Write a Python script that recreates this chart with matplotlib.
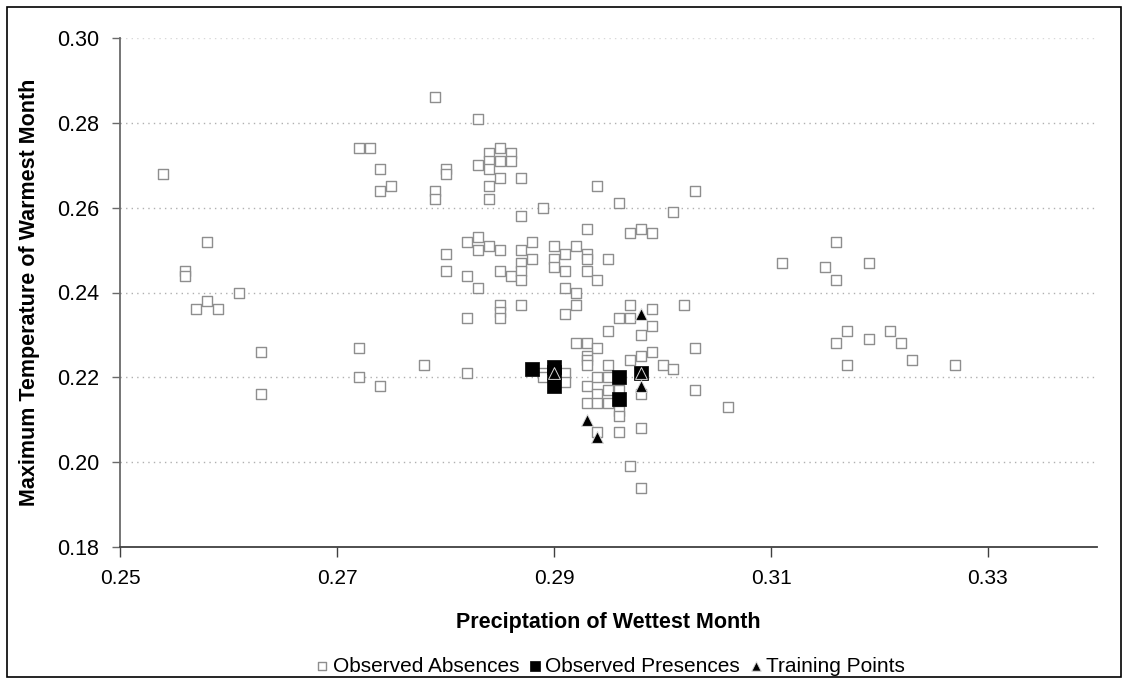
import matplotlib
matplotlib.use("Agg")
import matplotlib.pyplot as plt
from matplotlib.patches import Rectangle

plt.rcParams['font.family'] = ['Liberation Sans', 'DejaVu Sans']

# Observed absences
abs_x = [0.254, 0.258, 0.256, 0.256, 0.261, 0.258, 0.257, 0.259, 0.263, 0.263,
         0.272, 0.273, 0.274, 0.274, 0.275, 0.272, 0.272, 0.274, 0.278,
         0.279, 0.283, 0.280, 0.280, 0.279, 0.279, 0.283,
         0.284, 0.284, 0.284, 0.285, 0.285, 0.286, 0.286, 0.284, 0.284,
         0.285, 0.287, 0.294, 0.303, 0.289, 0.296, 0.301, 0.287,
         0.293, 0.297, 0.298, 0.299,
         0.282, 0.283, 0.283, 0.284, 0.285,
         0.280, 0.280, 0.282, 0.285, 0.286,
         0.287, 0.287, 0.287, 0.287, 0.288, 0.288,
         0.290, 0.290, 0.290, 0.291, 0.292,
         0.293, 0.293, 0.295, 0.291, 0.293, 0.294,
         0.283, 0.291, 0.292,
         0.285, 0.285, 0.285, 0.287, 0.292, 0.291,
         0.297, 0.299, 0.302, 0.282, 0.296, 0.297,
         0.299, 0.295, 0.298, 0.292, 0.293, 0.294,
         0.293, 0.293, 0.293, 0.299, 0.298, 0.297,
         0.295, 0.300, 0.301, 0.303, 0.303, 0.282,
         0.289, 0.289, 0.291, 0.291, 0.293, 0.293,
         0.294, 0.294, 0.294, 0.295, 0.295, 0.295,
         0.296, 0.296, 0.296, 0.296, 0.298, 0.294, 0.298,
         0.297, 0.298, 0.306,
         0.316, 0.311, 0.315, 0.319, 0.316,
         0.317, 0.321, 0.316, 0.319, 0.322,
         0.317, 0.323, 0.327]
abs_y = [0.268, 0.252, 0.245, 0.244, 0.240, 0.238, 0.236, 0.236, 0.226, 0.216,
         0.274, 0.274, 0.269, 0.264, 0.265, 0.227, 0.220, 0.218, 0.223,
         0.286, 0.281, 0.269, 0.268, 0.264, 0.262, 0.270,
         0.273, 0.271, 0.269, 0.274, 0.271, 0.273, 0.271, 0.265, 0.262,
         0.267, 0.267, 0.265, 0.264, 0.260, 0.261, 0.259, 0.258,
         0.255, 0.254, 0.255, 0.254,
         0.252, 0.253, 0.250, 0.251, 0.250,
         0.249, 0.245, 0.244, 0.245, 0.244,
         0.250, 0.247, 0.245, 0.243, 0.252, 0.248,
         0.251, 0.248, 0.246, 0.249, 0.251,
         0.249, 0.248, 0.248, 0.245, 0.245, 0.243,
         0.241, 0.241, 0.240,
         0.237, 0.2355, 0.234, 0.237, 0.237, 0.235,
         0.237, 0.236, 0.237, 0.234, 0.234, 0.234,
         0.232, 0.231, 0.230, 0.228, 0.228, 0.227,
         0.225, 0.224, 0.223, 0.226, 0.225, 0.224,
         0.223, 0.223, 0.222, 0.227, 0.217, 0.221,
         0.221, 0.220, 0.221, 0.219, 0.218, 0.214,
         0.220, 0.216, 0.214, 0.220, 0.217, 0.214,
         0.217, 0.212, 0.211, 0.207, 0.216, 0.207, 0.208,
         0.199, 0.194, 0.213,
         0.252, 0.247, 0.246, 0.247, 0.243,
         0.231, 0.231, 0.228, 0.229, 0.228,
         0.223, 0.224, 0.223]

# Observed presences
pres_x = [0.288, 0.290, 0.290, 0.290, 0.296, 0.296, 0.298]
pres_y = [0.222, 0.2225, 0.2213, 0.218, 0.220, 0.215, 0.221]

# Training points
train_x = [0.290, 0.298, 0.298, 0.298, 0.293, 0.294]
train_y = [0.221, 0.221, 0.235, 0.218, 0.210, 0.206]

x_ticks = [0.25, 0.27, 0.29, 0.31, 0.33]
x_tick_labels = ["0.25", "0.27", "0.29", "0.31", "0.33"]
y_ticks = [0.18, 0.20, 0.22, 0.24, 0.26, 0.28, 0.30]
y_tick_labels = ["0.18", "0.20", "0.22", "0.24", "0.26", "0.28", "0.30"]

fig = plt.figure(figsize=(11.23, 6.80), dpi=100)
ax = fig.add_axes([120/1123, 1-547/680, (1096.5-120)/1123, (547-38)/680])

ax.set_xlim(0.25, 0.34)
ax.set_ylim(0.18, 0.30)

for yv in y_ticks[1:]:
    gc = '#d8d8d8' if yv == y_ticks[-1] else '#b0b0b0'
    ax.axhline(yv, color=gc, lw=1.0, ls=(0, (1, 3)), zorder=0)

ax.scatter(abs_x, abs_y, marker='s', s=7.3**2, facecolor='white',
           edgecolor='#8e8e8e', linewidths=1.0, zorder=2, label='Observed Absences')
ax.scatter(pres_x, pres_y, marker='s', s=9.5**2, facecolor='black',
           edgecolor='black', linewidths=0.5, zorder=3, label='Observed Presences')
ax.scatter(train_x, train_y, marker='^', s=8.5**2, facecolor='black',
           edgecolor='#d8d8d8', linewidths=0.7, zorder=4, label='Training Points')

for s in ['top', 'right']:
    ax.spines[s].set_visible(False)
ax.spines['left'].set_color('#6a6a6a')
ax.spines['bottom'].set_color('#404040')
ax.spines['left'].set_linewidth(1.3)
ax.spines['bottom'].set_linewidth(1.3)

ax.set_xticks(x_ticks)
ax.set_xticklabels(x_tick_labels)
ax.set_yticks(y_ticks)
ax.set_yticklabels(y_tick_labels)
ax.tick_params(axis='x', length=7, width=1.0, color='#404040', labelsize=15, pad=9)
ax.tick_params(axis='y', length=6, width=1.0, color='#6a6a6a', labelsize=15.5, pad=9)

ax.set_xlabel('Preciptation of Wettest Month', fontsize=15.5, fontweight='bold', labelpad=17)
ax.set_ylabel('Maximum Temperature of Warmest Month', fontsize=15.5, fontweight='bold', labelpad=12)

leg = fig.legend(loc='center', bbox_to_anchor=(609/1123, 1-666/680), ncol=3, frameon=False,
                 fontsize=15, handletextpad=0.05, columnspacing=0.3, handlelength=0.9,
                 markerscale=0.8)

fig.patches.append(Rectangle((7/1123, 3/680), 1114/1123, 670/680, transform=fig.transFigure,
                             fill=False, edgecolor='black', lw=1.2))

fig.savefig('out.png', dpi=100)
